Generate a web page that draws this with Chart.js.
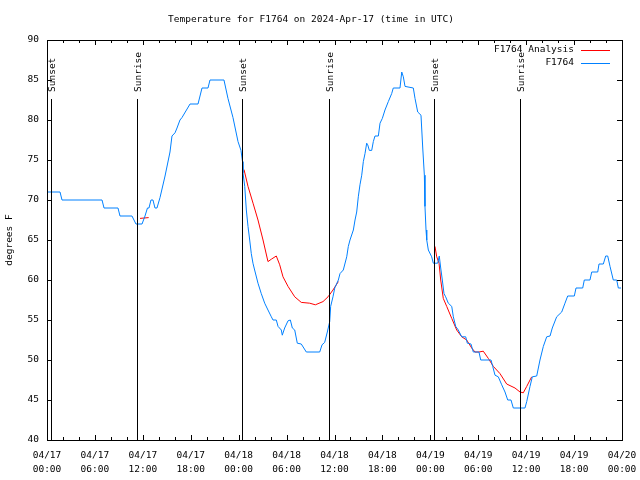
<!DOCTYPE html>
<html>
<head>
<meta charset="utf-8">
<script src="https://cdn.jsdelivr.net/npm/chart.js@4"></script>
<style>
  html, body { margin: 0; padding: 0; background: #fff; }
  #wrap { width: 640px; height: 480px; }
</style>
</head>
<body>
<div id="wrap"><canvas class="js-temp" width="640" height="480"></canvas></div>
<script>
// hours since 04/17 00:00 UTC
const obsHours = [0.0, 1.63, 1.88, 6.89, 7.14, 8.89, 9.14, 10.64, 11.14, 11.9, 12.27, 12.58, 12.77, 13.02, 13.27, 13.52, 13.77, 14.15, 14.78, 15.4, 15.65, 16.03, 16.28, 16.65, 16.9, 17.91, 18.91, 19.41, 20.16, 20.41, 22.16, 22.66, 23.29, 23.92, 24.29, 24.48, 24.54, 24.76, 24.96, 25.17, 25.38, 25.58, 25.79, 26.0, 26.42, 26.83, 27.26, 27.67, 28.09, 28.3, 28.71, 28.93, 29.34, 29.46, 29.76, 30.18, 30.47, 30.72, 31.02, 31.34, 31.84, 32.47, 34.15, 34.44, 34.77, 35.1, 35.4, 35.52, 35.81, 36.03, 36.48, 36.69, 37.1, 37.53, 37.73, 37.94, 38.36, 38.57, 38.78, 38.98, 39.19, 39.41, 39.61, 39.82, 40.03, 40.16, 40.36, 40.66, 40.86, 41.07, 41.49, 41.7, 41.99, 42.32, 42.74, 43.16, 43.36, 44.2, 44.42, 44.62, 44.83, 45.87, 46.08, 46.42, 46.83, 47.05, 47.25, 47.33, 47.46, 47.55, 47.75, 48.17, 48.37, 48.92, 49.12, 49.3, 49.5, 49.71, 49.92, 50.25, 50.68, 50.88, 51.18, 51.5, 51.93, 52.43, 52.63, 53.09, 53.38, 54.09, 54.31, 55.6, 55.81, 56.1, 56.51, 56.94, 57.35, 57.69, 58.1, 58.39, 59.85, 60.07, 60.48, 60.77, 61.32, 61.73, 62.15, 62.57, 62.99, 63.27, 63.82, 64.45, 64.86, 65.2, 66.03, 66.24, 67.08, 67.28, 67.99, 68.21, 68.96, 69.12, 69.66, 69.96, 70.21, 70.5, 70.91, 71.34, 71.54, 71.88];
const obsTemps = [71, 71, 70, 70, 69, 69, 68, 68, 67, 67, 68, 69, 69, 70, 70, 69, 69, 70.3, 73, 76, 78, 78.4, 79, 80, 80.3, 82, 82, 84, 84, 85, 85, 82.7, 80.3, 77.3, 76.2, 74.8, 73.4, 71.7, 68.75, 66.7, 65, 63.3, 62.1, 61.25, 59.6, 58.3, 57.1, 56.25, 55.4, 55, 55, 54.2, 53.75, 53.1, 54, 54.9, 55, 54, 53.75, 52.1, 52, 51, 51, 51.9, 52.2, 53.5, 54.8, 56.7, 57.9, 59, 60, 60.8, 61.25, 62.9, 64.2, 65, 66.25, 67.5, 68.5, 70.4, 71.9, 73.1, 74.8, 75.8, 77.1, 76.9, 76.2, 76.2, 77.3, 78, 78, 79.6, 80.2, 81.25, 82.3, 83.3, 84, 84, 86, 85.4, 84.2, 84, 82.7, 81, 80.6, 76.5, 73.1, 69.2, 66.25, 65, 63.75, 62.9, 62.1, 62.1, 63, 61.5, 60, 58.3, 57.9, 57.1, 56.7, 55.4, 54.2, 53.75, 52.9, 52.9, 52.1, 52, 51, 51, 50, 50, 49.2, 48.1, 47.9, 46.9, 46, 45, 45, 44, 44, 44.8, 46.7, 47.9, 48, 50, 51.7, 52.9, 53, 54, 55.4, 56, 57.1, 58, 58, 59, 59, 60, 60, 61, 61, 62, 62, 63, 63, 61.7, 60, 60, 59, 59];

// analysis series, null marks a break between runs
const anaHours = [11.65, 12.73, 18.0, 24.67, 25.17, 25.8, 26.42, 27.05, 27.67, 28.09, 28.71, 29.14, 29.55, 30.18, 31.02, 31.84, 32.9, 33.6, 34.56, 35.19, 35.81, 36.48, 42.0, 48.58, 48.8, 49.09, 49.3, 49.62, 50.05, 50.68, 51.3, 51.93, 52.55, 53.18, 53.59, 54.09, 54.63, 55.26, 55.89, 56.72, 57.56, 58.6, 59.23, 59.64, 60.07, 60.69];
const anaTemps = [67.7, 67.8, null, 73.8, 71.7, 69.6, 67.5, 65, 62.3, 62.6, 63, 61.9, 60.4, 59.2, 57.9, 57.2, 57.1, 56.9, 57.3, 57.9, 58.75, 59.8, null, 64.2, 62.9, 62.1, 60, 57.7, 56.7, 55.2, 53.75, 52.9, 52.5, 51.5, 51, 51, 51.1, 50.2, 49.2, 48.3, 47, 46.5, 46, 45.9, 46.7, 47.9];

const sunHours = [0.5, 11.27, 24.42, 35.31, 48.46, 59.23];
const sunNames = ["Sunset", "Sunrise", "Sunset", "Sunrise", "Sunset", "Sunrise"];

const xTickLabels = [
  ["04/17", "00:00"], ["04/17", "06:00"], ["04/17", "12:00"], ["04/17", "18:00"],
  ["04/18", "00:00"], ["04/18", "06:00"], ["04/18", "12:00"], ["04/18", "18:00"],
  ["04/19", "00:00"], ["04/19", "06:00"], ["04/19", "12:00"], ["04/19", "18:00"],
  ["04/20", "00:00"],
];

const FONT = "DejaVu Sans Mono";
const FSIZE = 9.5;

const toPoints = function (xs, ys) {
  return xs.map((h, i) => ({ x: h, y: ys[i] }));
};

// gnuplot style: box, inward ticks, sun lines, legend on the right
const gnuplotBits = {
  id: "gnuplotBits",
  afterDatasetsDraw(chart) {
    const { ctx, chartArea: a, scales } = chart;
    const xs = scales.x;
    const ys = scales.y;
    ctx.save();
    ctx.strokeStyle = "#000";
    ctx.lineWidth = 1;

    // sun lines
    ctx.font = FSIZE + "px " + FONT;
    ctx.fillStyle = "#000";
    sunHours.forEach((h, i) => {
      const px = Math.round(xs.getPixelForValue(h)) + 0.5;
      ctx.beginPath();
      ctx.moveTo(px, 99);
      ctx.lineTo(px, a.bottom);
      ctx.stroke();
      ctx.save();
      ctx.translate(px + 1, 92);
      ctx.rotate(-Math.PI / 2);
      ctx.textAlign = "left";
      ctx.textBaseline = "middle";
      ctx.fillText(sunNames[i], 0, 0);
      ctx.restore();
    });

    // box
    ctx.strokeRect(Math.round(a.left) + 0.5, Math.round(a.top) + 0.5,
      Math.round(a.right - a.left), Math.round(a.bottom - a.top));

    // ticks
    ctx.beginPath();
    for (let h = 0; h <= 72; h += 2) {
      const px = Math.round(xs.getPixelForValue(h)) + 0.5;
      const len = h % 6 === 0 ? 5 : 3;
      ctx.moveTo(px, a.bottom);
      ctx.lineTo(px, a.bottom - len);
      ctx.moveTo(px, a.top);
      ctx.lineTo(px, a.top + len);
    }
    for (let t = 40; t <= 90; t += 5) {
      const py = Math.round(ys.getPixelForValue(t)) + 0.5;
      ctx.moveTo(a.left, py);
      ctx.lineTo(a.left + 5, py);
      ctx.moveTo(a.right, py);
      ctx.lineTo(a.right - 5, py);
    }
    ctx.stroke();

    // legend
    const items = [
      { text: "F1764 Analysis", color: "#ff0000" },
      { text: "F1764", color: "#0080ff" },
    ];
    ctx.textAlign = "right";
    ctx.textBaseline = "middle";
    items.forEach((it, i) => {
      const y = 50 + i * 13;
      ctx.fillStyle = "#000";
      ctx.fillText(it.text, 574, y);
      ctx.strokeStyle = it.color;
      ctx.beginPath();
      ctx.moveTo(581, y + 0.5);
      ctx.lineTo(610, y + 0.5);
      ctx.stroke();
    });
    ctx.restore();
  },
};

const charttemp = function () {
  const canvas = document.querySelector(".js-temp");

  new Chart(canvas, {
    type: "line",
    data: {
      datasets: [
        {
          label: "F1764 Analysis",
          data: toPoints(anaHours, anaTemps),
          borderColor: "#ff0000",
          backgroundColor: "#ff0000",
          borderWidth: 1,
          pointRadius: 0,
          spanGaps: false,
          order: 1,
        },
        {
          label: "F1764",
          data: toPoints(obsHours, obsTemps),
          borderColor: "#0080ff",
          backgroundColor: "#0080ff",
          borderWidth: 1,
          pointRadius: 0,
          order: 0,
        },
      ],
    },
    options: {
      responsive: false,
      animation: false,
      devicePixelRatio: 1,
      layout: {
        padding: { top: 0, right: 18, bottom: 0, left: 0 },
      },
      scales: {
        x: {
          type: "linear",
          min: 0,
          max: 72,
          grid: { display: false },
          border: { display: false },
          afterFit(scale) {
            scale.height = 40;
          },
          ticks: {
            stepSize: 6,
            autoSkip: false,
            maxRotation: 0,
            padding: 1,
            color: "#000",
            font: { family: FONT, size: FSIZE, lineHeight: 1.45 },
            callback: (value) => xTickLabels[value / 6],
          },
        },
        y: {
          min: 40,
          max: 90,
          grid: { display: false },
          border: { display: false },
          afterFit(scale) {
            scale.width = 47;
          },
          title: {
            display: true,
            text: "degrees F",
            color: "#000",
            font: { family: FONT, size: FSIZE },
            padding: { top: 4, bottom: 0 },
          },
          ticks: {
            stepSize: 5,
            padding: 0,
            color: "#000",
            font: { family: FONT, size: FSIZE },
          },
        },
      },
      plugins: {
        legend: { display: false },
        tooltip: { enabled: false },
        title: {
          display: true,
          text: "Temperature for F1764 on 2024-Apr-17 (time in UTC)",
          color: "#000",
          font: { family: FONT, size: FSIZE, weight: "normal" },
          padding: { top: 14, bottom: 14.6 },
        },
      },
    },
    plugins: [gnuplotBits],
  });
};

const init = function () {
  charttemp();
};

document.addEventListener("DOMContentLoaded", init);
</script>
</body>
</html>
